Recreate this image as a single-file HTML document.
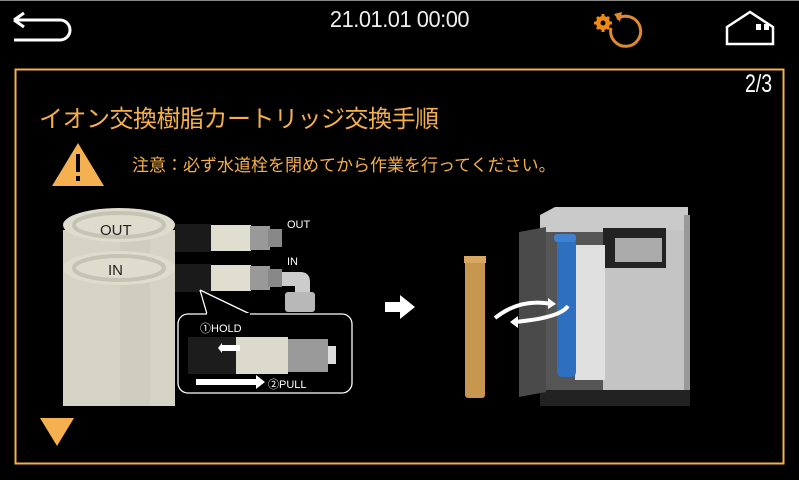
<!DOCTYPE html>
<html><head><meta charset="utf-8"><style>
body{margin:0;width:799px;height:480px;background:#000;overflow:hidden;position:relative;font-family:"Liberation Sans","Noto Sans CJK JP",sans-serif}
.a{position:absolute}
</style></head><body>
<div class="a" style="left:0;top:0;width:799px;height:1px;background:#888"></div>
<div class="a" style="left:0;top:6px;width:799px;text-align:center;color:#eee;font-size:23px;letter-spacing:-0.5px;transform:scaleX(0.95)">21.01.01 00:00</div>
<svg class="a" style="left:0;top:0" width="799" height="480">
 <path d="M14 20 L24 13 M14 20 L24 27 M14 20 H60 A10 10 0 0 1 60 40 H14" stroke="#fff" stroke-width="3" fill="none"/>
 <circle cx="603" cy="23" r="5" fill="none" stroke="#f08a10" stroke-width="4"/>
 <g stroke="#f08a10" stroke-width="3"><path d="M603 14v18M594 23h18M597 17l12 12M609 17l-12 12"/></g>
 <circle cx="603" cy="23" r="2.5" fill="#000"/>
 <path d="M617 19 A15 15 0 1 1 611 28" stroke="#e08a30" stroke-width="3" fill="none"/>
 <path d="M614 14 L622 12 L620 22 Z" fill="#e08a30"/>
 <path d="M727 27 L750 12 L773 27 V44 H727 Z" stroke="#fff" stroke-width="2.5" fill="none"/>
 <rect x="756" y="24" width="5" height="6" fill="#fff"/><rect x="764" y="24" width="5" height="6" fill="#fff"/>
 <rect x="15.5" y="69.5" width="768" height="394" stroke="#f5b04a" stroke-width="2" fill="none"/>
 <path d="M78 143 L104 186 H52 Z" fill="#f5b050"/>
 <rect x="76" y="154" width="4" height="18" fill="#000"/><rect x="76" y="176" width="4" height="5" fill="#000"/>
 <path d="M40 418 H74 L57 446 Z" fill="#f5b050"/>
 <rect x="63" y="230" width="112" height="176" fill="#d5d3c3"/>
 <rect x="120" y="230" width="30" height="176" fill="#cfcdbd"/>
 <ellipse cx="119" cy="225" rx="56" ry="17" fill="#dedccc"/>
 <ellipse cx="119" cy="225" rx="45" ry="12" fill="none" stroke="#c5c3b3" stroke-width="4"/>
 <ellipse cx="119" cy="268" rx="56" ry="17" fill="#dedccc"/>
 <ellipse cx="119" cy="268" rx="45" ry="12" fill="none" stroke="#c5c3b3" stroke-width="4"/>
 <text x="100" y="235" font-size="15" fill="#222">OUT</text>
 <text x="108" y="275" font-size="15" fill="#222">IN</text>
 <g>
  <rect x="175" y="224" width="36" height="28" fill="#1a1a1a"/>
  <rect x="211" y="225" width="40" height="26" fill="#e0dfcf"/>
  <rect x="250" y="226" width="20" height="24" fill="#999"/>
  <rect x="268" y="229" width="14" height="18" fill="#888"/>
  <rect x="175" y="264" width="36" height="28" fill="#1a1a1a"/>
  <rect x="211" y="265" width="40" height="26" fill="#e0dfcf"/>
  <rect x="250" y="266" width="20" height="24" fill="#999"/>
  <rect x="268" y="269" width="14" height="18" fill="#888"/>
  <path d="M282 272 H300 Q310 272 310 282 V295 H295 V286 H282 Z" fill="#ccc"/>
  <rect x="285" y="292" width="30" height="20" rx="3" fill="#b8b8b8"/>
 </g>
 <text x="287" y="228" font-size="11" fill="#fff">OUT</text>
 <text x="287" y="265" font-size="11" fill="#fff">IN</text>
 <path d="M200 290 L207 314 M200 290 L250 314" stroke="#fff" stroke-width="1.3"/>
 <rect x="178" y="314" width="174" height="79" rx="10" fill="#000" stroke="#fff" stroke-width="1.3"/>
 <path d="M207 314 L250 314" stroke="#000" stroke-width="2"/>
 <text x="200" y="332" font-size="11" fill="#fff">①HOLD</text>
 <rect x="188" y="337" width="48" height="37" fill="#1c1c1c"/>
 <rect x="236" y="337" width="52" height="37" fill="#dcdbcb"/>
 <rect x="288" y="339" width="40" height="33" fill="#9a9a9a"/>
 <rect x="328" y="346" width="8" height="18" fill="#ddd"/>
 <path d="M222 345 H240 V351 H222 L222 353 L218 348 L222 343Z" fill="#fff"/>
 <path d="M196 379 H256 V375 L265 382 L256 389 V385 H196Z" fill="#fff"/>
 <text x="268" y="388" font-size="11" fill="#fff">②PULL</text>
 <path d="M385 302 H400 V295 L415 307 L400 319 V312 H385Z" fill="#fff"/>
 <rect x="465" y="260" width="20" height="138" rx="3" fill="#c8974f"/>
 <rect x="464" y="256" width="22" height="7" fill="#d9a860"/>
 <path d="M540 215 L555 207 H688 V398 H540Z" fill="#cacaca"/>
 <rect x="603" y="230" width="85" height="168" fill="#c4c4c4"/>
 <rect x="684" y="215" width="6" height="175" fill="#999"/>
 <rect x="603" y="228" width="63" height="40" fill="#222"/>
 <rect x="615" y="238" width="47" height="24" fill="#aaa"/>
 <rect x="546" y="232" width="57" height="160" fill="#555"/>
 <rect x="575" y="245" width="30" height="135" fill="#e0e0e0"/>
 <rect x="540" y="390" width="150" height="16" fill="#222"/>
 <path d="M519 232 L546 227 V392 L519 397Z" fill="#4a4a4a"/>
 <rect x="557" y="237" width="19" height="140" rx="5" fill="#2f6fc0"/>
 <rect x="554" y="234" width="22" height="8" rx="3" fill="#3f80cf"/>
 <path d="M495 318 Q520 298 552 304" stroke="#fff" stroke-width="4" fill="none"/>
 <path d="M548 298 L556 304 L548 309" fill="#fff"/>
 <path d="M568 306 Q560 318 514 322" stroke="#fff" stroke-width="4" fill="none"/>
 <path d="M518 316 L510 322 L518 328" fill="#fff"/>
</svg>
<div class="a" style="left:745px;top:70px;color:#fff;font-size:25px;transform:scaleX(0.78);transform-origin:left">2/3</div>
<div class="a" style="left:39px;top:99px;color:#f5b04a;font-size:24px;letter-spacing:-0.5px">イオン交換樹脂カートリッジ交換手順</div>
<div class="a" style="left:132px;top:151px;color:#f5b04a;font-size:17px">注意：必ず水道栓を閉めてから作業を行ってください。</div>
</body></html>
